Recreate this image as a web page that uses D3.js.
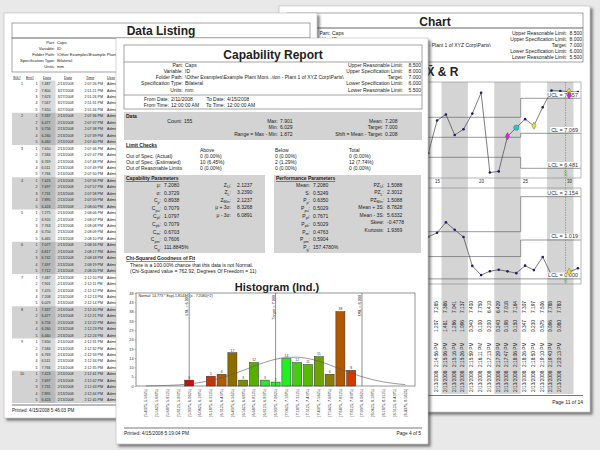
<!DOCTYPE html>
<html lang="en">
<head>
<meta charset="utf-8">
<title>Capability Report</title>
<script src="https://d3js.org/d3.v7.min.js"></script>
<style>
body{margin:0;background:#e9e9e9}
svg text{font-family:"Liberation Sans",Arial,sans-serif}
</style>
</head>
<body>
<div id="collage"></div>
<script>
// ---- report header (same on every page) ----
var headerLabels = ["Part:", "Variable:", "Folder Path:", "Specification Type:", "Units:"]
var headerValues = ["Caps", "ID", "\\Other Examples\\Example Plant Moni...tion - Plant 1 of XYZ Corp\\Parts\\", "Bilateral", "mm"]
var limitLabels = ["Upper Reasonable Limit:", "Upper Specification Limit:", "Target:", "Lower Specification Limit:", "Lower Reasonable Limit:"]
var limitValues = [8.5, 8.0, 7.0, 6.0, 5.5]

// ---- data listing page ----
var listHeads = ["SG#", "Ent#", "Data", "Date", "Time", "User"]
var listData = [7.487,7.800,7.623,7.567,7.650, 7.337,6.477,6.756,6.260,6.460, 7.650,7.584,6.769,6.511,7.766,
  7.423,7.697,7.731,7.895,6.424, 7.275,6.920,7.763,6.750,6.465, 7.077,6.817,6.742,7.497,7.712,
  7.487,7.901,7.470,7.208,6.029, 7.337,6.477,6.756,6.260,6.460, 7.650,7.584,6.769,6.511,7.766,
  7.423,7.697,7.731,7.895,6.424]
var listDates = ["2/13/2008","3/27/2008","3/27/2008","3/27/2008","3/27/2008",
  "2/13/2008","2/13/2008","2/13/2008","2/13/2008","2/13/2008","2/13/2008","2/13/2008","2/13/2008","2/13/2008","2/13/2008",
  "2/13/2008","2/13/2008","2/13/2008","2/13/2008","2/13/2008","2/13/2008","2/13/2008","2/13/2008","2/13/2008","2/13/2008",
  "2/13/2008","2/13/2008","2/13/2008","2/13/2008","2/13/2008","2/13/2008","2/13/2008","2/13/2008","2/13/2008","2/13/2008",
  "2/13/2008","2/13/2008","2/13/2008","2/13/2008","2/13/2008","2/13/2008","2/13/2008","2/13/2008","2/13/2008","2/13/2008",
  "2/13/2008","2/13/2008","2/13/2008","2/13/2008","2/13/2008"]
var listTimes = ["2:07:26 PM","2:51:21 PM","2:51:26 PM","2:51:31 PM","2:51:34 PM",
  "2:07:36 PM","2:07:37 PM","2:07:38 PM","2:07:39 PM","2:07:40 PM",
  "2:07:46 PM","2:07:47 PM","2:07:48 PM","2:07:49 PM","2:07:50 PM",
  "2:07:56 PM","2:07:57 PM","2:07:58 PM","2:07:59 PM","2:08:00 PM",
  "2:08:06 PM","2:08:07 PM","2:08:08 PM","2:08:09 PM","2:08:10 PM",
  "2:08:16 PM","2:08:17 PM","2:08:18 PM","2:08:19 PM","2:08:20 PM",
  "2:12:10 PM","2:12:11 PM","2:12:12 PM","2:12:13 PM","2:12:14 PM",
  "2:12:20 PM","2:12:21 PM","2:12:22 PM","2:12:23 PM","2:12:24 PM",
  "2:12:31 PM","2:12:32 PM","2:12:33 PM","2:12:34 PM","2:12:35 PM",
  "2:12:41 PM","2:12:42 PM","2:12:43 PM","2:12:44 PM","2:12:45 PM"]

// ---- capability report page ----
var dateLabels = ["From Date:", "To Date:", "From Time:", "To Time:"]
var dateValues = ["2/11/2008", "4/15/2008", "12:00:00 AM", "12:00:00 AM"]
var statsLeft = [["Count:", "155"]]
var statsMid = [["Max:", "7.901"], ["Min:", "6.029"], ["Range = Max - Min:", "1.872"]]
var statsRight = [["Mean:", "7.208"], ["Target:", "7.000"], ["Shift = Mean - Target:", "0.208"]]
var checkHeads = ["Above", "Below", "Total"]
var checkRows = ["Out of Spec. (Actual)", "Out of Spec. (Estimated)", "Out of Reasonable Limits"]
var checkAbove = ["0 (0.00%)", "10 (6.45%)", "0 (0.00%)"]
var checkBelow = ["0 (0.00%)", "2 (1.29%)", "0 (0.00%)"]
var checkTotal = ["0 (0.00%)", "12 (7.74%)", "0 (0.00%)"]
var capLabels = ["\u03bc:", "\u03c3:", "C_p:", "C_pu:", "C_pl:", "C_pk:", "C_m:", "C_pm:", "C_g:"]
var capValues = ["7.2080", "0.3729", "0.8938", "0.7079", "1.0797", "0.7079", "0.6703", "0.7606", "111.8845%"]
var zLabels = ["Z_U:", "Z_L:", "Z_Min:", "\u03bc + 3\u03c3:", "\u03bc - 3\u03c3:"]
var zValues = ["2.1237", "3.2390", "2.1237", "8.3268", "6.0891"]
var perfLabels = ["Mean:", "S:", "P_p:", "P_pu:", "P_pl:", "P_pk:", "P_m:", "P_pm:", "P_g:"]
var perfValues = ["7.2080", "0.5249", "0.6350", "0.5029", "0.7671", "0.5029", "0.4763", "0.5904", "157.4780%"]
var pzLabels = ["PZ_U:", "PZ_L:", "PZ_Min:", "Mean + 3S:", "Mean - 3S:", "Skew:", "Kurtosis:"]
var pzValues = ["1.5088", "2.3012", "1.5088", "8.7828", "5.6332", "-0.4778", "1.9369"]
var chiLines = ["There is a 100.00% chance that this data is not Normal.", "(Chi-Squared value = 762.92; Degrees Of Freedom = 11)"]

// ---- histogram ----
var binLabels = ["[5.4375, 5.5625)","[5.5625, 5.6875)","[5.6875, 5.8125)","[5.8125, 5.9375)","[5.9375, 6.0625)",
  "[6.0625, 6.1875)","[6.1875, 6.3125)","[6.3125, 6.4375)","[6.4375, 6.5625)","[6.5625, 6.6875)",
  "[6.6875, 6.8125)","[6.8125, 6.9375)","[6.9375, 7.0625)","[7.0625, 7.1875)","[7.1875, 7.3125)",
  "[7.3125, 7.4375)","[7.4375, 7.5625)","[7.5625, 7.6875)","[7.6875, 7.8125)","[7.8125, 7.9375)",
  "[7.9375, 8.0625)","[8.0625, 8.1875)","[8.1875, 8.3125)","[8.3125, 8.4375)","[8.4375, 8.5625]"]
var binLow = 5.4375, binHigh = 8.5625
var binCounts = [0,0,0,0,3,0,5,6,17,3,12,3,2,14,12,11,15,6,38,8,0,0,0,0,0]
var normalCurve = [0.07,0.16,0.31,0.59,1.05,1.76,2.79,4.19,5.95,7.97,10.10,12.08,13.66,14.59,14.73,14.04,12.66,10.77,8.67,6.59,4.73,3.21,2.06,1.25,0.71]
var histMax = 47.5
var histTicks = ["0","5","10","14","19","24","29","33","38","43","48"]
var specNames = ["LSL", "Target", "USL"]
var specValues = [6.0, 7.0, 8.0]
var normalText = "Normal: 14.773 * Exp(-1.8147 * (x - 7.2080)^2)"

// ---- X-bar & R chart page ----
var subgroups = [14,15,16,17,18,19,20,21,22,23,24,25,26,27,28,29,30,31]
var xbarValues = [6.733,7.285,7.386,7.041,7.137,7.400,7.750,6.410,6.429,7.018,7.164,7.307,7.197,7.506,7.788,7.780,7.768,7.763]
var rangeValues = [1.106,1.207,1.481,1.286,1.096,0.340,0.100,0.200,0.240,0.198,0.150,0.347,0.230,0.575,0.096,0.080,0.181,0.278]
var limitStarts = [1, 25]
var xbarUCL = [7.338, 7.657], xbarCL = [7.002, 7.069], xbarLCL = [6.666, 6.481]
var rangeUCL = [1.237, 2.154], rangeCL = [0.585, 1.019], rangeLCL = [0.000, 0.000]
var shadeGroups = [[4,6],[10,12],[16,18],[22,24],[28,30]]
var chartTicks = [15, 20, 25, 30]
var noteAt = 29.6
var xbarMarks = [[23,"#e020d8","diamond"],[24,"#20c8d0","circle"],[26,"#e8e020","diamond"],[30,"#e8e020","diamond"],[30,"#e020d8","diamond"]]
var rangeMarks = [[30,"#e8e020","diamond"]]
var tableFirst = 15, tableLast = 29
var tableTimes = ["2:14:56 PM","2:15:06 PM","2:15:16 PM","2:15:26 PM","2:15:59 PM","2:16:11 PM","2:17:13 PM","2:17:29 PM",
  "2:17:47 PM","2:18:06 PM","2:18:26 PM","2:18:50 PM","2:19:10 PM","2:19:40 PM","2:20:13 PM"]
var tableDate = "2/13/2008"

// ================= drawing =================
var svg = d3.select("#collage").append("svg").attr("width", 600).attr("height", 450)
svg.append("rect").attr("width", 600).attr("height", 450).attr("fill", "#e9e9e9")
var filt = svg.append("defs").append("filter").attr("id", "shadow")
    .attr("x", "-10%").attr("y", "-10%").attr("width", "120%").attr("height", "120%")
filt.append("feDropShadow").attr("dx", 2.5).attr("dy", 2.5).attr("stdDeviation", 1.3)
    .attr("flood-color", "#333").attr("flood-opacity", 0.6)

var ink = "#222"
function txt(g, x, y, s, o) {
    o = o || {}
    var t = g.append("text").attr("x", x).attr("y", y).text(s)
        .attr("font-size", o.size || 5)
        .attr("text-anchor", o.anchor || "start")
        .attr("fill", o.fill || ink)
    if (o.bold) t.attr("font-weight", "bold")
    if (o.underline) t.attr("text-decoration", "underline")
    if (o.rotate) t.attr("transform", "rotate(-90," + x + "," + y + ")")
    return t
}
// label with subscript, "C_pk:" -> C + pk subscript + ":"
function subTxt(g, x, y, s, size) {
    var t = g.append("text").attr("x", x).attr("y", y).attr("font-size", size)
        .attr("text-anchor", "end").attr("fill", ink)
    var parts = s.split("_")
    if (parts.length == 1) { t.text(s); return t }
    t.append("tspan").text(parts[0])
    t.append("tspan").attr("dy", size * 0.3).attr("font-size", size * 0.75).text(parts[1].replace(":", ""))
    t.append("tspan").attr("dy", -size * 0.3).text(":")
    return t
}
function line(g, x1, y1, x2, y2, c, w) {
    return g.append("line").attr("x1", x1).attr("y1", y1).attr("x2", x2).attr("y2", y2)
        .attr("stroke", c || "#666").attr("stroke-width", w || 0.6)
}
function rect(g, x, y, w, h, fill, stroke, sw) {
    return g.append("rect").attr("x", x).attr("y", y).attr("width", w).attr("height", h)
        .attr("fill", fill || "none").attr("stroke", stroke || "none").attr("stroke-width", sw || 0.6)
}
// labelRows: how many of the left labels are drawn (the rest sit under other pages)
function infoRows(g, lx, vx, y0, step, size, labelRows) {
    headerLabels.forEach(function(l, i) {
        if (labelRows == null || i < labelRows) txt(g, lx, y0 + i * step, l, {size: size, anchor: "end"})
        txt(g, vx, y0 + i * step, headerValues[i], {size: size})
    })
}
function limitRows(g, lx, vx, y0, step, size) {
    limitLabels.forEach(function(l, i) {
        txt(g, lx, y0 + i * step, l, {size: size, anchor: "end"})
        txt(g, vx, y0 + i * step, d3.format(".3f")(limitValues[i]), {size: size, anchor: "end"})
    })
}
function page(x, y, w, h) {
    var g = svg.append("g")
    rect(g, x, y, w, h, "#fff", "#aaa", 0.5).attr("filter", "url(#shadow)")
    return g
}

// ---------- back page: X-bar & R chart ----------
var chart = page(279, 6, 311, 406)
rect(chart, 287, 13, 296, 15, "none", "#666")
rect(chart, 287, 28, 296, 34, "none", "#666")
txt(chart, 435, 25.5, "Chart", {size: 12, bold: true, anchor: "middle"})
infoRows(chart, 330, 332, 34.8, 6.1, 5, 2)
limitRows(chart, 567, 582, 34.8, 6.1, 5)
txt(chart, 426.5, 75.5, "X\u0304 & R", {size: 12, bold: true})

var xS = d3.scaleLinear().domain([14, 31]).range([428.3, 577.9])
var yX = d3.scaleLinear().domain([6.481, 7.069]).range([168.3, 133.3])
var yR = d3.scaleLinear().domain([0, 1.019]).range([278.9, 240])

shadeGroups.forEach(function(d) {
    rect(chart, xS(d[0] - 0.5), 82, xS(d[1] + 0.5) - xS(d[0] - 0.5), 312, "#d4d4d4")
})
rect(chart, 300, 82, 281, 96, "none", "#888")
rect(chart, 300, 188, 281, 96, "none", "#888")

function limitPath(g, yS, vals) {
    var pts = limitStarts.map(function(s, i) { return [s - 0.5, vals[i]] })
    pts.push([31.3, vals[vals.length - 1]])
    g.append("path")
        .attr("d", d3.line().x(function(d) { return xS(d[0]) }).y(function(d) { return yS(d[1]) }).curve(d3.curveStepAfter)(pts))
        .attr("fill", "none").attr("stroke", "#555").attr("stroke-width", 0.6)
}
limitPath(chart, yX, xbarUCL); limitPath(chart, yX, xbarCL); limitPath(chart, yX, xbarLCL)
limitPath(chart, yR, rangeUCL); limitPath(chart, yR, rangeCL); limitPath(chart, yR, rangeLCL)

// note line
chart.append("line").attr("x1", xS(noteAt)).attr("x2", xS(noteAt)).attr("y1", 82).attr("y2", 284)
    .attr("stroke", "#3a3").attr("stroke-width", 0.6).attr("stroke-dasharray", "1.5,1")
txt(chart, xS(noteAt) + 1.6, 177, "100", {size: 4, rotate: true, fill: "#3a3"})
txt(chart, xS(noteAt) + 1.6, 283, "100", {size: 4, rotate: true, fill: "#3a3"})

function series(g, yS, vals) {
    g.append("path").datum(vals)
        .attr("d", d3.line().x(function(d, i) { return xS(subgroups[i]) }).y(function(d) { return yS(d) }))
        .attr("fill", "none").attr("stroke", "#444").attr("stroke-width", 0.7)
    g.selectAll(null).data(vals).enter().append("circle")
        .attr("cx", function(d, i) { return xS(subgroups[i]) })
        .attr("cy", function(d) { return yS(d) })
        .attr("r", 1.3).attr("fill", "#1c1c70")
}
series(chart, yX, xbarValues)
series(chart, yR, rangeValues)

function limitLabel(g, yS, vals, name) {
    var v = vals[vals.length - 1]
    var t = txt(g, 578, yS(v) - 1.6, name + " = " + d3.format(".3f")(v), {size: 5.5, anchor: "end", fill: "#333"})
    var b = t.node().getBBox()
    g.insert("rect", function() { return t.node() }).attr("x", b.x - 0.8).attr("y", b.y + 0.3)
        .attr("width", b.width + 1.6).attr("height", b.height - 0.8).attr("fill", "#fff")
}
limitLabel(chart, yX, xbarUCL, "UCL"); limitLabel(chart, yX, xbarCL, "CL"); limitLabel(chart, yX, xbarLCL, "LCL")
limitLabel(chart, yR, rangeUCL, "UCL"); limitLabel(chart, yR, rangeCL, "CL"); limitLabel(chart, yR, rangeLCL, "LCL")

function marks(g, yS, vals, list) {
    var seen = {}
    list.forEach(function(m) {
        var i = subgroups.indexOf(m[0])
        var k = seen[m[0]] || 0
        seen[m[0]] = k + 1
        var sym = d3.symbol().type(m[2] == "circle" ? d3.symbolCircle : d3.symbolDiamond).size(m[2] == "circle" ? 22 : 16)
        g.append("path").attr("d", sym())
            .attr("transform", "translate(" + xS(m[0]) + "," + (yS(vals[i]) + k * 3.5) + ")")
            .attr("fill", m[1]).attr("stroke", "#555").attr("stroke-width", 0.4)
    })
}
marks(chart, yX, xbarValues, xbarMarks)
marks(chart, yR, rangeValues, rangeMarks)

var xAx = chart.append("g").attr("transform", "translate(0,178)")
    .call(d3.axisBottom(xS).tickValues(chartTicks).tickSize(0).tickPadding(1.5))
xAx.select(".domain").remove()
xAx.selectAll("text").attr("font-size", 4.5).attr("fill", "#333").attr("font-family", "Liberation Sans")

// data table under the chart
subgroups.forEach(function(s, i) {
    if (s < tableFirst || s > tableLast) return
    var x = xS(s) + 0.8
    txt(chart, x, 313, d3.format(".3f")(xbarValues[i]), {size: 4.8, rotate: true})
    txt(chart, x, 332, d3.format(".3f")(rangeValues[i]), {size: 4.8, rotate: true})
    txt(chart, x, 367, tableTimes[s - tableFirst], {size: 4.8, rotate: true})
    txt(chart, x, 392, tableDate, {size: 4.8, rotate: true})
})
line(chart, 287, 395.5, 583, 395.5, "#555", 0.8)
txt(chart, 583, 403.5, "Page 11 of 14", {size: 5, anchor: "end"})

// ---------- middle page: data listing ----------
var list = page(4, 13, 313, 405)
rect(list, 12, 23, 298, 15, "none", "#666")
rect(list, 12, 38, 298, 34, "none", "#666")
txt(list, 161, 35, "Data Listing", {size: 12, bold: true, anchor: "middle"})
infoRows(list, 55, 57, 44, 6.1, 4.2)

var headX = [13, 26, 43, 64, 86, 107]
listHeads.forEach(function(h, i) { txt(list, headX[i], 78.5, h, {size: 3.8, underline: true}) })
var bandH = 32.25, rowH = bandH / 5
for (var k = 0; k < listData.length / 5; k++) {
    var by = 80.5 + k * bandH
    if (k % 2 == 1) rect(list, 12, by, 298, bandH, "#d2d2d2")
    rect(list, 39.5, by, 16, bandH, k % 2 == 1 ? "#b9b9b9" : "#dadada")
}
listData.forEach(function(v, i) {
    var y = 80.5 + i * rowH + 4.6
    if (i % 5 == 0) txt(list, 22, y, String(i / 5 + 1), {size: 3.6, anchor: "middle"})
    txt(list, 37.5, y, String(i % 5 + 1), {size: 3.6, anchor: "end"})
    txt(list, 41.5, y, d3.format(".3f")(v), {size: 3.6})
    txt(list, 57.5, y, listDates[i], {size: 3.6})
    txt(list, 84.5, y, listTimes[i], {size: 3.6})
    txt(list, 107, y, "Admin", {size: 3.6})
})
line(list, 12, 405, 310, 405, "#555", 0.8)
txt(list, 12, 412, "Printed: 4/15/2008 5:46:03 PM", {size: 4.6})

// ---------- front page: capability report ----------
var cap = page(116, 38, 312, 406)
rect(cap, 124, 45, 298, 64, "none", "#666")
line(cap, 124, 62, 422, 62)
line(cap, 124, 95, 422, 95)
txt(cap, 273, 58.5, "Capability Report", {size: 12, bold: true, anchor: "middle"})
infoRows(cap, 183, 185, 66.5, 6.3, 5)
limitRows(cap, 403, 421, 66.5, 6.3, 5)
dateLabels.forEach(function(l, i) {
    var y = i < 2 ? 100.5 : 106.7
    var lx = i % 2 == 0 ? 169 : 225
    txt(cap, lx, y, l, {size: 5, anchor: "end"})
    txt(cap, lx + 2, y, dateValues[i], {size: 5})
})

// data block
rect(cap, 124, 112, 298, 28, "#d3d3d3")
txt(cap, 126, 117.5, "Data", {size: 5, bold: true})
function pairs(g, arr, lx, y0, step) {
    arr.forEach(function(p, i) {
        txt(g, lx, y0 + i * step, p[0], {size: 5, anchor: "end"})
        txt(g, lx + 2, y0 + i * step, p[1], {size: 5})
    })
}
pairs(cap, statsLeft, 182, 123, 6.3)
pairs(cap, statsMid, 278, 123, 6.3)
pairs(cap, statsRight, 383, 123, 6.3)

// limit checks
txt(cap, 126, 146.5, "Limit Checks", {size: 5, bold: true, underline: true})
var checkX = [200, 275, 349]
checkHeads.forEach(function(h, i) { txt(cap, checkX[i], 152, h, {size: 5}) })
checkRows.forEach(function(r, i) {
    var y = 158 + i * 6.2
    txt(cap, 126, y, r, {size: 5})
    txt(cap, checkX[0], y, checkAbove[i], {size: 5})
    txt(cap, checkX[1], y, checkBelow[i], {size: 5})
    txt(cap, checkX[2], y, checkTotal[i], {size: 5})
})

// capability / performance parameters
rect(cap, 124, 175, 141, 78, "#d3d3d3")
rect(cap, 274, 175, 147, 78, "#d3d3d3")
txt(cap, 126, 180.3, "Capability Parameters", {size: 5, bold: true, underline: true})
txt(cap, 276, 180.3, "Performance Parameters", {size: 5, bold: true, underline: true})
function params(g, labels, values, lx, vx, y0, step) {
    labels.forEach(function(l, i) {
        subTxt(g, lx, y0 + i * step, l, 5)
        txt(g, vx, y0 + i * step, values[i], {size: 5})
    })
}
params(cap, capLabels, capValues, 161, 164, 186.7, 7.8)
params(cap, zLabels, zValues, 231, 237, 186.7, 7.5)
params(cap, perfLabels, perfValues, 310, 313, 186.7, 7.8)
params(cap, pzLabels, pzValues, 384, 387, 186.7, 7.5)

// chi squared
txt(cap, 126, 260, "Chi-Squared Goodness of Fit", {size: 5, bold: true, underline: true})
chiLines.forEach(function(l, i) { txt(cap, 130, 266.8 + i * 6.3, l, {size: 5}) })

// histogram
txt(cap, 277, 291, "Histogram (Ind.)", {size: 11, bold: true, anchor: "middle"})
var hx = d3.scaleBand().domain(binLabels).range([140.6, 410.6]).paddingInner(0.16).paddingOuter(0.08)
var hv = d3.scaleLinear().domain([binLow, binHigh]).range([140.6, 410.6])
var hy = d3.scaleLinear().domain([0, histMax]).range([386, 293])
var tColor = d3.scaleLinear()
    .domain([-8, -6, -5, -4, -3, -2, -1, 0, 1, 2, 3, 4, 5, 6, 7])
    .range(["#e60000", "#cc3300", "#b35a00", "#8c6e00", "#7c8c00", "#55b000", "#33e033", "#22f522",
            "#22ee22", "#44cc11", "#55bb00", "#6fa300", "#8a7c00", "#b05800", "#d03a00"])
// index of the bin that holds the target
var targetBin = binLabels.findIndex(function(l) { return hv.invert(hx(l) + hx.step() * 0.92) > specValues[1] })

rect(cap, 136, 293, 279, 93, "#fff", "#666", 0.7)
var hyAx = cap.append("g").attr("transform", "translate(136,0)")
    .call(d3.axisLeft(hy).tickValues(d3.range(0, histMax + 0.1, histMax / 10))
        .tickFormat(function(d, i) { return histTicks[i] }).tickSize(1.5).tickPadding(1))
hyAx.select(".domain").remove()
hyAx.selectAll("line").attr("stroke", "#666").attr("stroke-width", 0.4)
hyAx.selectAll("text").attr("font-size", 3.8).attr("fill", "#333").attr("font-family", "Liberation Sans")

binCounts.forEach(function(c, i) {
    if (c == 0) return
    cap.append("rect")
        .attr("x", hx(binLabels[i])).attr("width", hx.bandwidth())
        .attr("y", hy(c)).attr("height", hy(0) - hy(c))
        .attr("fill", tColor(i - targetBin)).attr("stroke", "#333").attr("stroke-width", 0.5)
    txt(cap, hx(binLabels[i]) + hx.bandwidth() / 2, hy(c) - 1.2, String(c), {size: 3.3, anchor: "middle", fill: "#333"})
})

cap.append("path").datum(normalCurve)
    .attr("d", d3.line().x(function(d, i) { return hx(binLabels[i]) + hx.bandwidth() / 2 })
        .y(function(d) { return hy(d) }).curve(d3.curveMonotoneX))
    .attr("fill", "none").attr("stroke", "#555").attr("stroke-width", 0.6)

specValues.forEach(function(v, i) {
    line(cap, hv(v), 293, hv(v), 386, "#444", 0.6)
    txt(cap, hv(v) - 1, 295, specNames[i] + " = " + d3.format(".3f")(v), {size: 3.8, anchor: "end", rotate: true})
})
txt(cap, 138.5, 297, normalText, {size: 3.6})

var hxAx = cap.append("g").attr("transform", "translate(0,386)")
    .call(d3.axisBottom(hx).tickSize(0))
hxAx.select(".domain").remove()
hxAx.selectAll("text").attr("font-size", 3.8).attr("fill", "#333").attr("font-family", "Liberation Sans")
    .attr("transform", "rotate(-90)").attr("x", -3).attr("y", 0).attr("dy", "0.35em").attr("text-anchor", "end")

line(cap, 124, 428, 422, 428, "#555", 0.8)
txt(cap, 124, 434.5, "Printed: 4/15/2008 5:19:04 PM", {size: 4.8})
txt(cap, 421, 434.5, "Page 4 of 5", {size: 4.8, anchor: "end"})
</script>
</body>
</html>
